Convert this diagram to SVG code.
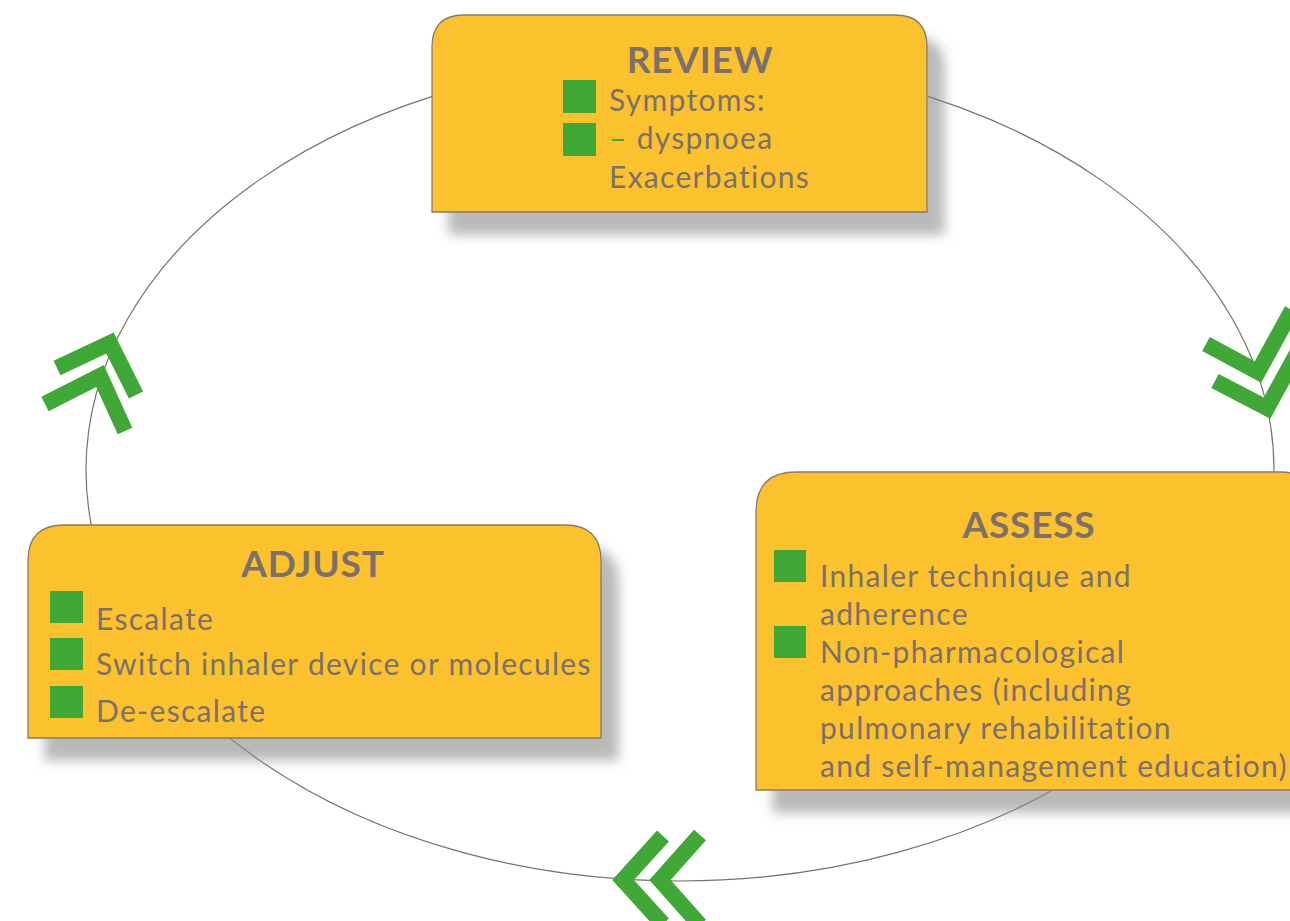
<svg xmlns="http://www.w3.org/2000/svg" width="1290" height="921" viewBox="0 0 1290 921">
<style>
.box{fill:#FBC22D;stroke:#8a7a70;stroke-width:1.3;filter:url(#sh)}
.title{font-family:Lato,"Liberation Sans",sans-serif;font-weight:bold;font-size:37px;letter-spacing:0.8px;fill:#7b706b;text-anchor:middle}
.txt{font-family:Lato,"Liberation Sans",sans-serif;font-size:30px;letter-spacing:1.3px;font-variant-ligatures:none;fill:#7b706b}
.sq{fill:#3fa836}
.chev{fill:none;stroke:#3fa836;stroke-width:16;stroke-linejoin:miter;stroke-linecap:butt}
.conn{fill:none;stroke:#7b706b;stroke-width:1.2}
</style>
<defs>
<filter id="sh" x="-10%" y="-10%" width="130%" height="140%">
<feDropShadow dx="17" dy="22" stdDeviation="6" flood-color="#8a8a8a" flood-opacity="0.6"/>
</filter>
</defs>
<rect width="1290" height="921" fill="#ffffff"/>
<g id="connectors">
<ellipse class="conn" cx="680" cy="470" rx="594" ry="411"/>
</g>
<g id="review">
<path class="box" d="M432,212 L432,47 Q432,15 464,15 L895,15 Q927,15 927,47 L927,212 Z"/>
<text class="title" x="700" y="73">REVIEW</text>
<rect class="sq" x="563" y="80" width="33" height="33"/>
<rect class="sq" x="563" y="123" width="33" height="33"/>
<text class="txt" x="609" y="111">Symptoms:</text>
<text class="txt" x="609" y="149"><tspan fill="#3fa836">–</tspan> dyspnoea</text>
<text class="txt" x="609" y="188">Exacerbations</text>
</g>
<g id="adjust">
<path class="box" d="M28,738 L28,561 Q28,525 64,525 L565,525 Q601,525 601,561 L601,738 Z"/>
<text class="title" x="313" y="577">ADJUST</text>
<rect class="sq" x="50" y="591" width="33" height="32"/>
<rect class="sq" x="50" y="638" width="33" height="32"/>
<rect class="sq" x="50" y="686" width="33" height="32"/>
<text class="txt" x="96" y="630">Escalate</text>
<text class="txt" x="96" y="675">Switch inhaler device or molecules</text>
<text class="txt" x="96" y="722">De-escalate</text>
</g>
<g id="assess">
<path class="box" d="M756,790 L756,512 Q756,472 796,472 L1280,472 Q1320,472 1320,512 L1320,790 Z"/>
<text class="title" x="1029" y="538">ASSESS</text>
<rect class="sq" x="774" y="550" width="32" height="32"/>
<rect class="sq" x="774" y="626" width="32" height="32"/>
<text class="txt" x="820" y="587">Inhaler technique and</text>
<text class="txt" x="820" y="625">adherence</text>
<text class="txt" x="820" y="663">Non-pharmacological</text>
<text class="txt" x="820" y="701">approaches (including</text>
<text class="txt" x="820" y="739">pulmonary rehabilitation</text>
<text class="txt" x="820" y="777">and self-management education)</text>
</g>
<g id="arrows">
<polyline class="chev" points="1206,344 1258,372 1292,310"/>
<polyline class="chev" points="1215,381 1267,408 1301,346"/>
<polyline class="chev" points="57,368 110,343 136,395"/>
<polyline class="chev" points="45,404 100,376 125,431"/>
<polyline class="chev" points="663,836 623,880 663,924"/>
<polyline class="chev" points="700,835 660,880 700,925"/>
</g>
</svg>
